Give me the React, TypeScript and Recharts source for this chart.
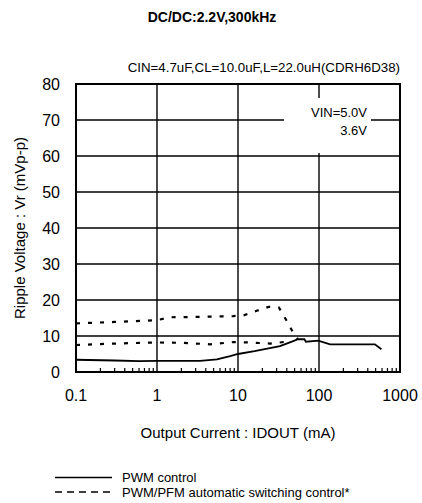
import React from 'react';
import { LineChart, Line, XAxis, YAxis, CartesianGrid, ReferenceArea, ReferenceLine } from 'recharts';

const X_TICKS = [0.1, 1, 10, 100, 1000];
const Y_TICKS = [0, 10, 20, 30, 40, 50, 60, 70, 80];
const MINOR_TICKS = [
  0.2, 0.3, 0.4, 0.5, 0.6, 0.7, 0.8, 0.9,
  2, 3, 4, 5, 6, 7, 8, 9,
  20, 30, 40, 50, 60, 70, 80, 90,
  200, 300, 400, 500, 600, 700, 800, 900,
];

// PWM control (solid)
const PWM_X = [0.1, 0.3, 0.6, 1, 2, 3.4, 5.5, 8, 10, 16, 33, 48, 55, 66, 69, 98, 137, 490, 590];
const PWM_Y = [3.4, 3.2, 3.0, 3.1, 3.1, 3.1, 3.5, 4.4, 5.0, 5.8, 7.2, 8.6, 9.1, 9.1, 8.4, 8.7, 7.7, 7.7, 6.3];

// PWM/PFM automatic switching, upper curve (dashed)
const PFM_A_X = [0.1, 0.3, 1, 1.45, 3, 8.7, 12, 17, 24, 32, 40, 48, 55];
const PFM_A_Y = [13.5, 13.9, 14.4, 15.2, 15.3, 15.5, 15.8, 17.0, 18.1, 17.9, 14.2, 10.9, 9.1];

// PWM/PFM automatic switching, lower curve (dashed)
const PFM_B_X = [0.1, 0.3, 1, 2, 4.5, 8.7, 14, 25, 33, 42];
const PFM_B_Y = [7.5, 7.9, 8.2, 8.1, 7.7, 8.3, 8.2, 7.9, 8.2, 8.5];

const TITLE = 'DC/DC:2.2V,300kHz';
const SUBTITLE = 'CIN=4.7uF,CL=10.0uF,L=22.0uH(CDRH6D38)';
const X_LABEL = 'Output Current : IDOUT (mA)';
const Y_LABEL = 'Ripple Voltage : Vr (mVp-p)';
const VIN_LABELS = ['VIN=5.0V', '3.6V'];
const LEGEND = ['PWM control', 'PWM/PFM automatic switching control*'];

const toSeries = (xs: number[], ys: number[]) => xs.map((x, i) => ({ x, v: ys[i] }));
const pwm = toSeries(PWM_X, PWM_Y);
const pfmA = toSeries(PFM_A_X, PFM_A_Y);
const pfmB = toSeries(PFM_B_X, PFM_B_Y);

const FONT = '"Liberation Sans", Arial, sans-serif';

const abs = (left: number, top: number, extra: React.CSSProperties = {}): React.CSSProperties => ({
  position: 'absolute', left, top, fontFamily: FONT, color: '#000', whiteSpace: 'nowrap', ...extra,
});

export default function App() {
  return (
    <div style={{ position: 'absolute', left: 0, top: 0, width: 422, height: 503, background: '#fff', overflow: 'hidden' }}>
      <LineChart width={422} height={503} margin={{ top: 84, right: 22, bottom: 91, left: 0 }}>
        <CartesianGrid stroke="#000" strokeWidth={1.4} horizontalValues={Y_TICKS} verticalValues={X_TICKS} />
        <XAxis
          type="number" dataKey="x" scale="log" domain={[0.1, 1000]} allowDataOverflow
          ticks={X_TICKS} height={40} axisLine={false} tickLine={false} tickSize={0} tickMargin={18}
          tick={{ fill: '#000', fontSize: 16, fontFamily: FONT }}
          tickFormatter={(v: number) => String(v)}
        />
        <YAxis
          type="number" domain={[0, 80]} ticks={Y_TICKS} width={76} axisLine={false} tickLine={false}
          tickSize={0} tickMargin={16} tick={{ fill: '#000', fontSize: 16, fontFamily: FONT }}
        />
        {MINOR_TICKS.map((t) => (
          <ReferenceLine key={t} segment={[{ x: t, y: 0 }, { x: t, y: 1.1 }]} stroke="#000" strokeWidth={1.2} />
        ))}
        <Line data={pfmA} dataKey="v" type="linear" stroke="#000" strokeWidth={2.2} strokeDasharray="4 8" dot={false} isAnimationActive={false} />
        <Line data={pfmB} dataKey="v" type="linear" stroke="#000" strokeWidth={2.2} strokeDasharray="4 8" dot={false} isAnimationActive={false} />
        <Line data={pwm} dataKey="v" type="linear" stroke="#000" strokeWidth={1.8} dot={false} isAnimationActive={false} />
        <ReferenceArea x1={0.1} x2={1000} y1={0} y2={80} fill="none" fillOpacity={0} stroke="#000" strokeWidth={2} />
      </LineChart>

      <div style={abs(0, 8, { width: 424, textAlign: 'center', fontSize: 14, fontWeight: 'bold', lineHeight: '18px' })}>{TITLE}</div>
      <div style={abs(0, 60, { width: 400, textAlign: 'right', fontSize: 13.3, lineHeight: '16px' })}>{SUBTITLE}</div>

      <div style={{ position: 'absolute', left: 284, top: 98, width: 87, height: 55, background: '#fff' }} />
      <div style={abs(0, 105, { width: 367, textAlign: 'right', fontSize: 13, lineHeight: '15px' })}>{VIN_LABELS[0]}</div>
      <div style={abs(0, 123, { width: 367, textAlign: 'right', fontSize: 13, lineHeight: '15px' })}>{VIN_LABELS[1]}</div>

      <div style={abs(0, 423, { width: 476, textAlign: 'center', fontSize: 15, lineHeight: '20px' })}>{X_LABEL}</div>
      <div style={abs(20, 228, { fontSize: 15, lineHeight: '20px', transform: 'translate(-50%, -50%) rotate(-90deg)' })}>{Y_LABEL}</div>

      <svg style={{ position: 'absolute', left: 0, top: 468 }} width={120} height={35}>
        <line x1={55} x2={112} y1={9.5} y2={9.5} stroke="#000" strokeWidth={1.5} />
        <line x1={55} x2={112} y1={24} y2={24} stroke="#000" strokeWidth={1.5} strokeDasharray="7 5" />
      </svg>
      <div style={abs(122, 470, { fontSize: 13, lineHeight: '15px' })}>{LEGEND[0]}</div>
      <div style={abs(122, 485, { fontSize: 13, lineHeight: '15px' })}>{LEGEND[1]}</div>
    </div>
  );
}
